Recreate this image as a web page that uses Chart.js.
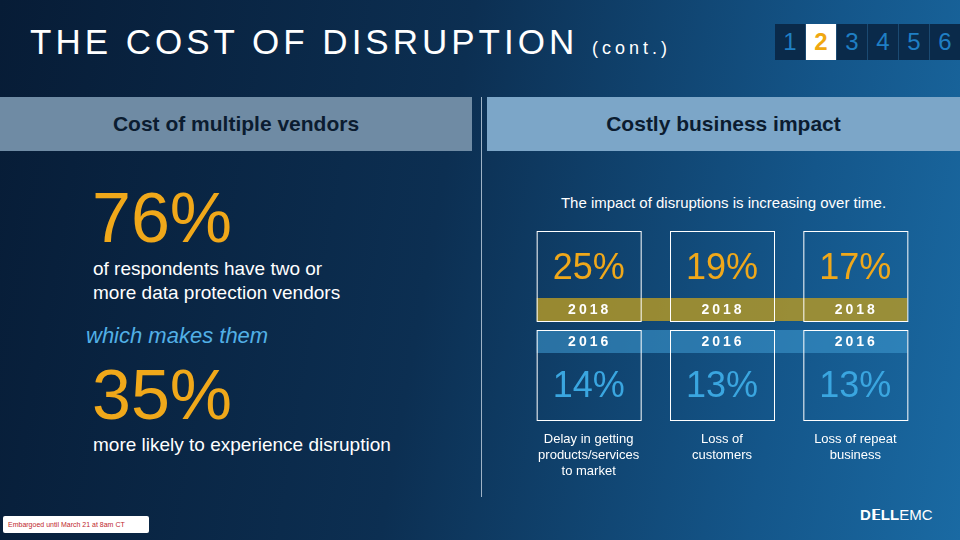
<!DOCTYPE html>
<html><head><meta charset="utf-8">
<script src="https://cdn.jsdelivr.net/npm/chart.js@4/dist/chart.umd.min.js"></script>
<style>
body{margin:0;width:960px;height:540px;overflow:hidden;font-family:Arial,"Liberation Sans",sans-serif;
 background:linear-gradient(100deg,#071c36 0%,#0c2f52 45%,#14568a 80%,#1a6aa3 100%);position:relative;color:#fff}
.abs{position:absolute}
#title{left:30px;top:22px;font-size:35px;letter-spacing:4px;white-space:nowrap}
#title span{font-size:18px;letter-spacing:4px}
#pager{left:775px;top:24px;display:flex}
#pager div{width:30px;height:36px;background:#0a2a4a;color:#1f7fc4;font-size:24px;text-align:center;line-height:36px;border-right:1px solid #1b4a72}
#pager div.on{background:#fff;color:#f0a810;font-weight:bold}
.hdr{top:97px;height:54px;line-height:54px;text-align:center;font-size:21px;font-weight:bold;color:#0b1c30}
#h1{left:0;width:472px;background:#6f8ba4}
#h2{left:487px;width:473px;background:#7ca6c8}
#div{left:481px;top:97px;width:1px;height:400px;background:#9fb3c6}
.big{font-size:70px;color:#f0a81a;left:92px;line-height:1}
.txt{font-size:19px;color:#fff;left:93px;line-height:24px}
#mid{left:86px;top:323px;font-size:22px;font-style:italic;color:#52b0e6}
#sub{left:487px;width:473px;top:194px;text-align:center;font-size:15px}
#emb{left:3px;top:516px;width:146px;height:17px;background:#fff;border-radius:2px;color:#c0282d;font-size:7px;line-height:17px;padding-left:5px;box-sizing:border-box}
#logo{left:860px;top:506px;font-size:15px;letter-spacing:0px}
#cv{left:522px;top:225px}
</style></head><body>
<div class="abs" id="title">THE COST OF DISRUPTION <span>(cont.)</span></div>
<div class="abs" id="pager"><div>1</div><div class="on">2</div><div>3</div><div>4</div><div>5</div><div>6</div></div>
<div class="abs hdr" id="h1">Cost of multiple vendors</div>
<div class="abs hdr" id="h2">Costly business impact</div>
<div class="abs" id="div"></div>
<div class="abs big" style="top:183px">76%</div>
<div class="abs txt" style="top:257px">of respondents have two or<br>more data protection vendors</div>
<div class="abs" id="mid">which makes them</div>
<div class="abs big" style="top:360px">35%</div>
<div class="abs txt" style="top:433px">more likely to experience disruption</div>
<div class="abs" id="sub">The impact of disruptions is increasing over time.</div>
<div class="abs" id="emb">Embargoed until March 21 at 8am CT</div>
<div class="abs" id="logo"><b>D&#x1D5D8;LL</b>EMC</div>
<div class="abs" id="cv"><canvas id="c" width="400" height="265"></canvas></div>
<script>
const categories = [["Delay in getting", "products/services", "to market"], ["Loss of", "customers"], ["Loss of repeat", "business"]];
const values2018 = [25, 19, 17];
const values2016 = [14, 13, 13];
const yearLabels = ["2018", "2016"];

const tiles = {
  id: 'tiles',
  afterDatasetsDraw(chart) {
    const ctx = chart.ctx;
    const pts = chart.getDatasetMeta(0).data;
    const w = 104, x0 = pts[0].x - w/2, x1 = pts[pts.length-1].x + w/2;
    const top = 6, bandH = 23;
    ctx.save();
    ctx.fillStyle = 'rgba(176,150,40,0.85)';
    ctx.fillRect(x0, top + 67, x1 - x0, bandH);
    ctx.fillStyle = 'rgba(60,150,205,0.6)';
    ctx.fillRect(x0, top + 99, x1 - x0, bandH);
    ctx.textAlign = 'center';
    pts.forEach((p, i) => {
      ctx.strokeStyle = '#fff'; ctx.lineWidth = 1;
      ctx.strokeRect(p.x - w/2 + .5, top + .5, w, 90);
      ctx.strokeRect(p.x - w/2 + .5, top + 99.5, w, 90);
      ctx.font = '36px Arial'; ctx.textBaseline = 'middle';
      ctx.fillStyle = '#f0a81a';
      ctx.fillText(values2018[i] + '%', p.x, top + 38);
      ctx.fillStyle = '#3aa6e0';
      ctx.fillText(values2016[i] + '%', p.x, top + 156);
      ctx.font = 'bold 14px Arial'; ctx.fillStyle = '#fff';
      ctx.letterSpacing = '3px';
      ctx.fillText(yearLabels[0], p.x + 1, top + 79);
      ctx.fillText(yearLabels[1], p.x + 1, top + 111);
      ctx.letterSpacing = '0px';
      ctx.font = '13px Arial';
      categories[i].forEach((l, j) => ctx.fillText(l, p.x, top + 208 + j * 16));
    });
    ctx.restore();
  }
};

new Chart(document.getElementById('c'), {
  type: 'bar',
  data: {
    labels: categories.map(c => c.join(' ')),
    datasets: [
      {label: yearLabels[0], data: values2018, backgroundColor: 'rgba(0,0,0,0)'},
      {label: yearLabels[1], data: values2016, backgroundColor: 'rgba(0,0,0,0)'}
    ]
  },
  options: {
    responsive: false, animation: false,
    layout: {padding: 0},
    datasets: {bar: {grouped: false}},
    scales: {x: {display: false}, y: {display: false, min: 0, max: 30}},
    plugins: {legend: {display: false}, tooltip: {enabled: false}}
  },
  plugins: [tiles]
});
</script>
</body></html>
